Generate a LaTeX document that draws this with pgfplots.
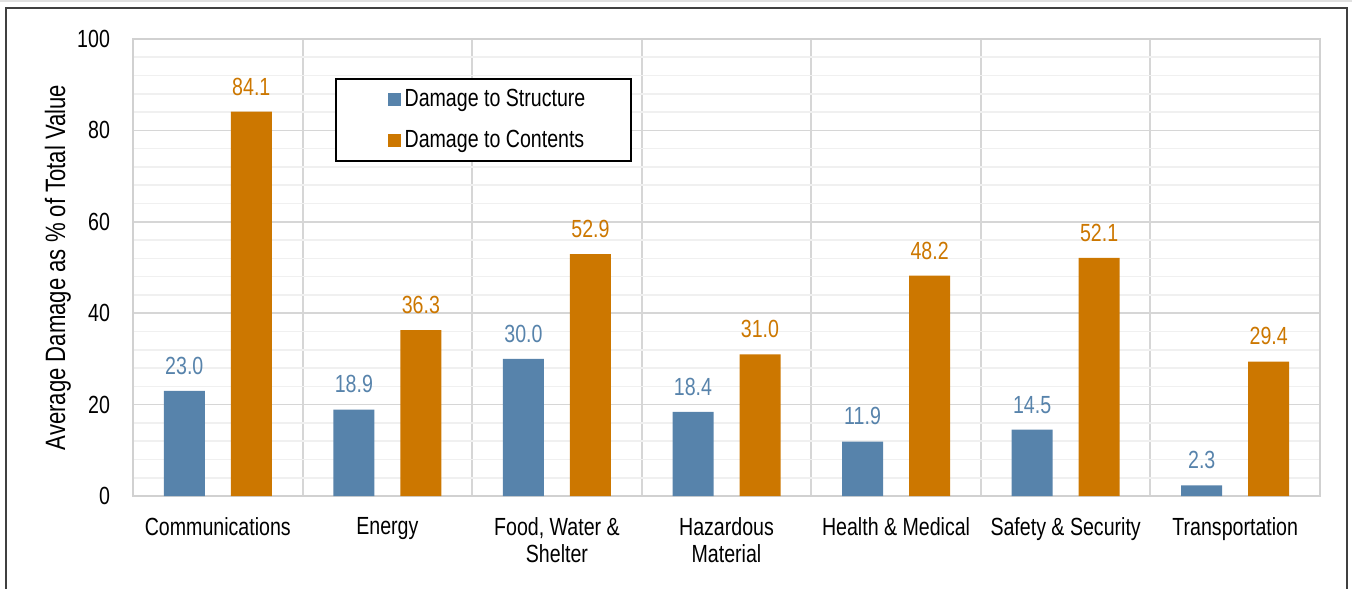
\documentclass[border=0pt]{standalone}
\usepackage{fontspec}
\setmainfont{Liberation Sans}[FakeStretch=0.79]
\usepackage{pgfplots}
\pgfplotsset{compat=1.18}
\definecolor{cblue}{RGB}{87,131,171}
\definecolor{corange}{RGB}{204,119,0}
\begin{document}
\begin{tikzpicture}[font=\fontsize{12.4}{13.8}\selectfont]
\path[use as bounding box] (-66.5pt,-46pt) rectangle (609.5pt,248pt);
\begin{axis}[
  ybar,
  scale only axis, width=593.5pt, height=228.5pt,
  xmin=-0.5, xmax=6.5, ymin=0, ymax=100,
  xtick={0,...,6},
  xticklabels={Communications, Energy, {Food, Water \&\\Shelter}, {Hazardous\\Material}, Health \& Medical, Safety \& Security, Transportation},
  xticklabel style={align=center, yshift=-7pt},
  minor xtick={0.5,1.5,...,5.5},
  xminorgrids,
  minor x grid style={draw=black!16, line width=1pt},
  ytick={0,20,...,100}, minor y tick num=4,
  ymajorgrids, yminorgrids,
  major y grid style={draw=black!16, line width=0.8pt},
  minor y grid style={draw=black!6, line width=0.8pt},
  major tick length=0pt, minor tick length=0pt,
  axis line style={draw=black!18, line width=1pt},
  yticklabel style={xshift=-8pt},
  /pgf/number format/assume math mode=true,
  ylabel={Average Damage as \% of Total Value},
  ylabel style={at={(axis description cs:-0.0632,0.5)}, anchor=center, font=\fontsize{14}{16}\selectfont},
  legend style={at={(axis description cs:0.1702,0.9147)}, anchor=north west,
    draw=black, line width=1pt, inner xsep=21pt, inner ysep=3pt, row sep=6.5pt,
    nodes={inner sep=2pt, line width=0.4pt}},
  legend cell align=left,
  legend image code/.code={\path (0pt,0pt); \fill[#1, draw=none] (4.8pt,-3.25pt) rectangle (11.3pt,3.25pt);},
  nodes near coords,
  nodes near coords style={anchor=south, inner sep=0pt, yshift=8pt,
    /pgf/number format/fixed, /pgf/number format/fixed zerofill,
    /pgf/number format/precision=1},
]
\addplot[fill=cblue, draw=none, bar width=20.5pt, bar shift=-16.75pt,
  every node near coord/.append style={text=cblue}]
  coordinates {(0,23.0) (1,18.9) (2,30.0) (3,18.4) (4,11.9) (5,14.5) (6,2.3)};
\addlegendentry{Damage to Structure}
\addplot[fill=corange, draw=none, bar width=20.5pt, bar shift=16.75pt,
  every node near coord/.append style={text=corange}]
  coordinates {(0,84.1) (1,36.3) (2,52.9) (3,31.0) (4,48.2) (5,52.1) (6,29.4)};
\addlegendentry{Damage to Contents}
\end{axis}
\draw[black!75, line width=1pt] (-63.5pt,-50pt) -- (-63.5pt,244pt) -- (607pt,244pt) -- (607pt,-50pt);
\draw[black!12, line width=1pt] (-66.5pt,247.6pt) -- (609.5pt,247.6pt);
\end{tikzpicture}
\end{document}
